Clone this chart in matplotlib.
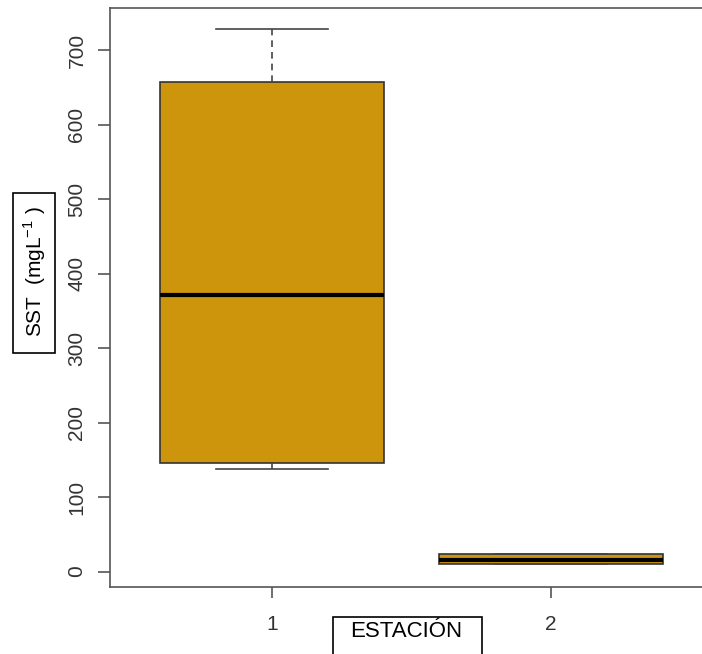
import matplotlib
matplotlib.use("Agg")
import matplotlib.pyplot as plt
from matplotlib.patches import Rectangle

plt.rcParams['font.family'] = ['Liberation Sans', 'DejaVu Sans']

# datos (SST por estacion)
estaciones = ['1', '2']
whislo = [138, 9.5]
q1 = [146, 9.5]
med = [371, 16]
q3 = [657, 23]
whishi = [729, 24]
y_ticks = [0, 100, 200, 300, 400, 500, 600, 700]

stats = []
for i, lab in enumerate(estaciones):
    stats.append({'label': lab, 'whislo': whislo[i], 'q1': q1[i], 'med': med[i],
                  'q3': q3[i], 'whishi': whishi[i], 'fliers': []})

fig = plt.figure(figsize=(7.02, 6.54), dpi=100)
W, H = 702, 654
# area del grafico (el borde derecho queda fuera de la imagen, como en el original)
ax = fig.add_axes([110 / W, 1 - 587 / H, (713 - 110) / W, (587 - 8) / H])

ax.bxp(stats, positions=[1, 2], widths=0.8, patch_artist=True, showfliers=False,
       boxprops=dict(facecolor='#CD950C', edgecolor='#333333', linewidth=1.2),
       medianprops=dict(color='black', linewidth=3, solid_capstyle='butt'),
       whiskerprops=dict(color='#444444', linewidth=1.2, linestyle=(0, (4, 3))),
       capprops=dict(color='#444444', linewidth=1.2), capwidths=0.4)

ax.set_xlim(0.42, 2.58)
ax.set_ylim(-20.8, 756.8)
ax.set_yticks(y_ticks)
ax.set_yticklabels([str(v) for v in y_ticks], rotation=90, va='center')
ax.set_xticks([1, 2])
ax.set_xticklabels(estaciones)

for sp in ax.spines.values():
    sp.set_color('#555555')
    sp.set_linewidth(1.2)
ax.tick_params(axis='y', length=9, width=1.2, color='#555555', labelcolor='#333333',
               labelsize=15, pad=8)
ax.tick_params(axis='x', length=8, width=1.2, color='#555555', labelcolor='#333333',
               labelsize=15, pad=12)

# etiquetas con recuadro
fig.patches.append(Rectangle((13 / W, 1 - 353 / H), 42 / W, 160 / H, transform=fig.transFigure,
                             facecolor='white', edgecolor='black', linewidth=1.2))
fig.text(35 / W, 1 - 272 / H, 'SST  (mgL$^{\\mathregular{-1}}$ )', rotation=90, ha='center',
         va='center', fontsize=15, color='black')

fig.patches.append(Rectangle((333 / W, 1 - 670 / H), 149 / W, 53 / H, transform=fig.transFigure,
                             facecolor='white', edgecolor='black', linewidth=1.2))
fig.text(406 / W, 1 - 637 / H, 'ESTACIÓN', ha='center', va='baseline', fontsize=16, color='black')

fig.savefig('out.png', dpi=100)
